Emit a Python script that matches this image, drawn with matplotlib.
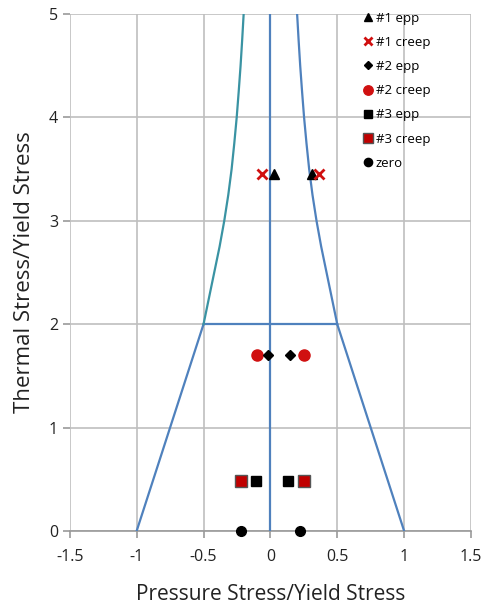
import matplotlib
matplotlib.use("Agg")
import matplotlib.pyplot as plt

plt.rcParams['font.family'] = ['Open Sans', 'DejaVu Sans']

# Boundary lines
left_line_x = [-1.0, -0.5]
left_line_y = [0.0, 2.0]
right_line_x = [1.0, 0.5]
right_line_y = [0.0, 2.0]
mid_x = [-0.5, 0.5]
mid_y = [2.0, 2.0]
axis_x = [0.0, 0.0]
axis_y = [0.0, 5.0]
curve_y = [2.0, 2.25, 2.5, 2.75, 3.0, 3.25, 3.5, 3.75, 4.0, 4.25, 4.5, 4.75, 5.0]
curve_right_x = [0.5, 0.46, 0.42, 0.38, 0.345, 0.315, 0.29, 0.27, 0.252, 0.237, 0.223, 0.211, 0.2]
curve_left_x = [-0.5, -0.46, -0.42, -0.38, -0.345, -0.315, -0.29, -0.27, -0.252, -0.237, -0.223, -0.211, -0.2]

# Data points
s1_epp_x = [0.03, 0.31]
s1_epp_y = [3.45, 3.45]
s1_creep_x = [-0.06, 0.36]
s1_creep_y = [3.45, 3.45]
s2_epp_x = [-0.02, 0.15]
s2_epp_y = [1.70, 1.70]
s2_creep_x = [-0.10, 0.25]
s2_creep_y = [1.70, 1.70]
s3_epp_x = [-0.11, 0.135]
s3_epp_y = [0.48, 0.48]
s3_creep_x = [-0.22, 0.25]
s3_creep_y = [0.48, 0.48]
zero_x = [-0.22, 0.22]
zero_y = [0.0, 0.0]

xticks = [-1.5, -1, -0.5, 0, 0.5, 1, 1.5]
xticklabels = ['-1.5', '-1', '-0.5', '0', '0.5', '1', '1.5']
yticks = [0, 1, 2, 3, 4, 5]

blue = '#4f81bd'
teal = '#3a93a3'
red = '#c00000'

fig = plt.figure(figsize=(4.85, 6.13), dpi=100)
ax = fig.add_axes([0.144, 0.134, 0.827, 0.843])

lw = 1.6
ax.plot(left_line_x, left_line_y, color=blue, lw=lw, zorder=3)
ax.plot(right_line_x, right_line_y, color=blue, lw=lw, zorder=3)
ax.plot(mid_x, mid_y, color=blue, lw=lw, zorder=3)
ax.plot(axis_x, axis_y, color=blue, lw=lw, zorder=3)
ax.plot(curve_right_x, curve_y, color=blue, lw=lw, zorder=3)
ax.plot(curve_left_x, curve_y, color=teal, lw=lw, zorder=3)

ms = 7
ax.plot(s1_epp_x, s1_epp_y, '^', color='black', ms=ms, ls='none', label='#1 epp', zorder=4)
ax.plot(s1_creep_x, s1_creep_y, 'x', color='#d01010', ms=ms, mew=2, ls='none', label='#1 creep', zorder=5)
ax.plot(s2_epp_x, s2_epp_y, 'D', color='black', ms=5, ls='none', label='#2 epp', zorder=5)
ax.plot(s2_creep_x, s2_creep_y, 'o', color='#d01010', ms=ms+1, ls='none', label='#2 creep', zorder=4)
ax.plot(s3_epp_x, s3_epp_y, 's', color='black', ms=ms, ls='none', label='#3 epp', zorder=4)
ax.plot(s3_creep_x, s3_creep_y, 's', color=red, mec='#555555', ms=ms + 1, ls='none', label='#3 creep', zorder=4)
ax.plot(zero_x, zero_y, 'o', color='black', ms=ms, ls='none', label='zero', zorder=5, clip_on=False)

ax.set_xlim(-1.5, 1.5)
ax.set_ylim(0, 5)
ax.set_xticks(xticks)
ax.set_xticklabels(xticklabels)
ax.set_yticks(yticks)
ax.grid(True, color='#bfbfbf', lw=1.2)
ax.set_axisbelow(True)
for s in ['top', 'right', 'left']:
    ax.spines[s].set_visible(False)
ax.spines['bottom'].set_color('#999999')
ax.spines['bottom'].set_linewidth(1.2)
ax.tick_params(axis='both', colors='#999999', length=5, width=1.2, labelsize=11.5, labelcolor='#222222')
ax.tick_params(axis='x', pad=8)

ax.set_xlabel('Pressure Stress/Yield Stress', fontsize=15, labelpad=14, color='#222222')
ax.set_ylabel('Thermal Stress/Yield Stress', fontsize=16, labelpad=10, color='#222222')

leg = ax.legend(loc='upper left', bbox_to_anchor=(0.71, 1.015), frameon=False, fontsize=9.5,
                handletextpad=0.0, handlelength=1.2, labelspacing=0.85, borderaxespad=0, markerscale=0.85)

fig.savefig('out.png', dpi=100)
